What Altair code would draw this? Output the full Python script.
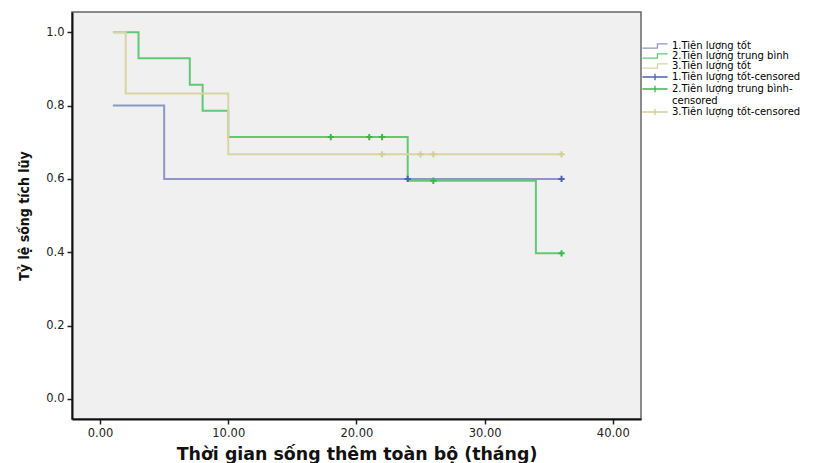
import altair as alt
import pandas as pd

# ---- data ----
groups = ["1.Tiên lượng tốt", "2.Tiên lượng trung bình", "3.Tiên lượng tốt"]
cens_names = ["1.Tiên lượng tốt-censored", "2.Tiên lượng trung bình-censored",
              "3.Tiên lượng tốt-censored"]

g1_time = [1, 5, 36]
g1_surv = [0.8, 0.6, 0.6]
g2_time = [1, 3, 7, 8, 10, 24, 34, 36]
g2_surv = [1.0, 0.929, 0.857, 0.786, 0.714, 0.595, 0.397, 0.397]
g3_time = [1, 2, 10, 36]
g3_surv = [1.0, 0.833, 0.667, 0.667]

c1_time = [24, 36]
c1_surv = [0.6, 0.6]
c2_time = [18, 21, 22, 26, 36]
c2_surv = [0.714, 0.714, 0.714, 0.595, 0.397]
c3_time = [22, 25, 26, 36]
c3_surv = [0.667, 0.667, 0.667, 0.667]

legend_labels = groups + cens_names

x_ticks = [0, 10, 20, 30, 40]
y_ticks = [0.0, 0.2, 0.4, 0.6, 0.8, 1.0]

# ---- styles ----
line_colors = ["#8c97c9", "#62c973", "#d8d4a3"]
cross_colors = ["#4a62b2", "#34bb4c", "#d3ce98"]
legend_colors = line_colors + cross_colors
step = "M-3.6,0.6 L0.7,0.6 L0.7,-0.6 L3.6,-0.6"
crossp = "M-3.6,0 L3.6,0 M0,-0.9 L0,0.9"
legend_shapes = [step, step, step, crossp, crossp, crossp]

lines_df = pd.concat([
    pd.DataFrame({"t": g1_time, "s": g1_surv, "label": groups[0]}),
    pd.DataFrame({"t": g2_time, "s": g2_surv, "label": groups[1]}),
    pd.DataFrame({"t": g3_time, "s": g3_surv, "label": groups[2]}),
])
cens_df = pd.concat([
    pd.DataFrame({"t": c1_time, "s": c1_surv, "label": cens_names[0]}),
    pd.DataFrame({"t": c2_time, "s": c2_surv, "label": cens_names[1]}),
    pd.DataFrame({"t": c3_time, "s": c3_surv, "label": cens_names[2]}),
])
leg_df = pd.DataFrame({"label": legend_labels, "t": [0] * 6, "s": [0.5] * 6})

xscale = alt.Scale(domain=[-2.19, 42.2], nice=False, zero=False)
yscale = alt.Scale(domain=[-0.0546, 1.055], nice=False, zero=False)
cscale = alt.Scale(domain=legend_labels, range=legend_colors)

xenc = alt.X("t:Q", scale=xscale, axis=alt.Axis(
    values=x_ticks, format=".2f", title="Thời gian sống thêm toàn bộ (tháng)",
    grid=False, tickSize=5, labelPadding=3, titlePadding=7))
yenc = alt.Y("s:Q", scale=yscale, axis=alt.Axis(
    values=y_ticks, format=".1f", title="Tỷ lệ sống tích lũy",
    grid=False, tickSize=5, labelPadding=3, titlePadding=14))

lines = alt.Chart(lines_df).mark_line(interpolate="step-after", strokeWidth=2).encode(
    x=xenc, y=yenc,
    color=alt.Color("label:N", scale=cscale, legend=None),
    detail="label:N",
)

cross = alt.Chart(cens_df).mark_point(shape="M-1,0 L1,0 M0,-1 L0,1", filled=False,
                                       size=40, strokeWidth=2, opacity=1).encode(
    x="t:Q", y="s:Q",
    color=alt.Color("label:N", scale=cscale, legend=None),
)

lexpr = ("datum.label == '2.Tiên lượng trung bình-censored' ? "
         "['2.Tiên lượng trung bình-', 'censored'] : datum.label")
legend_common = dict(title=None, orient="none", legendX=578, legendY=29, padding=0,
                     symbolOpacity=1, symbolSize=49, symbolStrokeWidth=1.3,
                     symbolFillColor="transparent",
                     labelFont="DejaVu Sans", labelFontSize=10,
                     labelColor="#000", labelOffset=12, rowPadding=0,
                     labelLimit=300, labelExpr=lexpr)

leg = alt.Chart(leg_df).mark_point(filled=False, strokeWidth=1.3).encode(
    x="t:Q", y="s:Q",
    opacity=alt.value(0),
    color=alt.Color("label:N", scale=cscale, legend=alt.Legend(**legend_common)),
    shape=alt.Shape("label:N", scale=alt.Scale(domain=legend_labels, range=legend_shapes),
                    legend=alt.Legend(**legend_common)),
)

chart = alt.layer(leg, lines, cross).properties(
    width=569, height=407,
    padding={"left": 72, "top": 12, "right": 178, "bottom": 44},
    autosize=alt.AutoSizeParams(type="none"),
    background="white",
).configure_view(
    fill="#f0f0f0", stroke="#666666", strokeWidth=1.5,
).configure_axis(
    domainColor="#111111", domainWidth=2, tickColor="#222222", tickWidth=1.5,
    labelFont="DejaVu Sans", labelFontSize=11.5, labelColor="#222222",
).configure_axisX(
    titleFont="DejaVu Sans", titleFontSize=17.4, titleFontWeight="bold", titleColor="#111111",
).configure_axisY(
    titleFont="DejaVu Sans Condensed, Liberation Sans", titleFontSize=14,
    titleFontWeight="bold", titleColor="#111111",
)

chart.save("out.html", embed_options={"renderer": "svg", "actions": False})
